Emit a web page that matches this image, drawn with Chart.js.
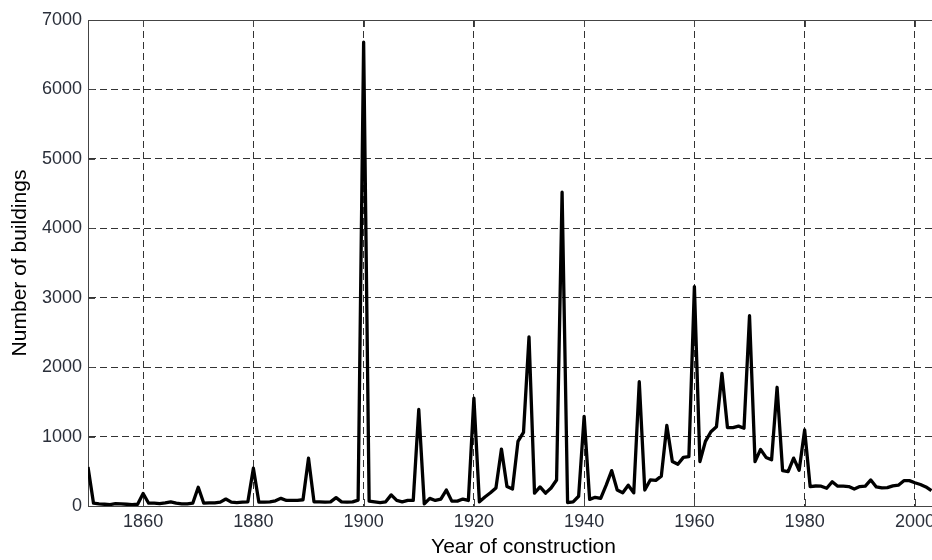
<!DOCTYPE html>
<html><head><meta charset="utf-8">
<script src="https://cdn.jsdelivr.net/npm/chart.js@4.4.1/dist/chart.umd.min.js"></script>
<style>
html,body{margin:0;padding:0;overflow:hidden;background:#fff;width:932px;height:560px}
#wrap{width:962px;height:560px;position:relative}
</style></head>
<body><div id="wrap"><canvas id="c" width="962" height="560"></canvas></div>
<script>
const years = [
 1850,1851,1852,1853,1854,1855,1856,1857,1858,1859,
 1860,1861,1862,1863,1864,1865,1866,1867,1868,1869,
 1870,1871,1872,1873,1874,1875,1876,1877,1878,1879,
 1880,1881,1882,1883,1884,1885,1886,1887,1888,1889,
 1890,1891,1892,1893,1894,1895,1896,1897,1898,1899,
 1900,1901,1902,1903,1904,1905,1906,1907,1908,1909,
 1910,1911,1912,1913,1914,1915,1916,1917,1918,1919,
 1920,1921,1922,1923,1924,1925,1926,1927,1928,1929,
 1930,1931,1932,1933,1934,1935,1936,1937,1938,1939,
 1940,1941,1942,1943,1944,1945,1946,1947,1948,1949,
 1950,1951,1952,1953,1954,1955,1956,1957,1958,1959,
 1960,1961,1962,1963,1964,1965,1966,1967,1968,1969,
 1970,1971,1972,1973,1974,1975,1976,1977,1978,1979,
 1980,1981,1982,1983,1984,1985,1986,1987,1988,1989,
 1990,1991,1992,1993,1994,1995,1996,1997,1998,1999,
 2000,2001,2002,2003];
const buildings = [
 560,40,30,25,20,35,30,25,20,25,
 180,40,40,35,45,60,40,30,30,40,
 270,40,45,45,55,100,55,50,55,60,
 545,55,55,60,75,110,80,80,80,90,
 690,60,60,55,60,120,60,55,60,85,
 6680,70,60,50,60,160,80,60,80,80,
 1390,30,110,80,100,230,70,70,100,80,
 1555,60,130,190,260,820,280,245,930,1060,
 2435,185,275,185,260,375,4520,50,60,140,
 1290,95,125,110,300,510,230,190,300,190,
 1790,230,375,370,430,1160,640,600,700,710,
 3160,640,930,1070,1140,1910,1130,1130,1150,1120,
 2740,640,815,700,665,1710,510,495,690,515,
 1095,280,288,285,255,350,285,285,280,245,
 280,285,375,275,260,265,290,300,365,365,
 335,310,275,220];
const xTicks = [1860,1880,1900,1920,1940,1960,1980,2000];
const yTicks = [0,1000,2000,3000,4000,5000,6000,7000];
const xLabel = 'Year of construction';
const yLabel = 'Number of buildings';

const points = years.map((yr,i)=>({x:yr,y:buildings[i]}));
const FONT = '"Liberation Sans", Arial, sans-serif';

const frame = {
  id:'frame',
  beforeDatasetsDraw(chart){
    const {ctx, chartArea:{left,top,right,bottom}, scales:{x,y}} = chart;
    ctx.save();
    ctx.strokeStyle='#444'; ctx.lineWidth=1;
    ctx.strokeRect(Math.round(left)+0.5, Math.round(top)+0.5, Math.round(right-left), Math.round(bottom-top));
    ctx.beginPath();
    xTicks.forEach(v=>{const px=Math.round(x.getPixelForValue(v))+0.5; ctx.moveTo(px,top); ctx.lineTo(px,top+7); ctx.moveTo(px,bottom); ctx.lineTo(px,bottom-7);});
    yTicks.forEach(v=>{const py=Math.round(y.getPixelForValue(v))+0.5; ctx.moveTo(left,py); ctx.lineTo(left+7,py);});
    ctx.stroke();
    ctx.restore();
  }
};

new Chart(document.getElementById('c'), {
  type:'line',
  data:{datasets:[{data:points,borderColor:'#000',borderWidth:3.3,pointRadius:0,tension:0,fill:false,borderJoinStyle:'round'}]},
  options:{
    responsive:false, animation:false,
    layout:{padding:{left:0,top:20,right:3,bottom:0}},
    plugins:{legend:{display:false},tooltip:{enabled:false}},
    scales:{
      x:{type:'linear',min:1850,max:2008,
        afterBuildTicks:(s)=>{s.ticks = xTicks.map(v=>({value:v}));},
        afterFit:(s)=>{s.height=54;},
        grid:{color:'#333',lineWidth:1,drawTicks:false},
        border:{display:true,color:'#444',dash:[7,4]},
        ticks:{padding:5,color:'#2a2f3a',font:{family:FONT,size:18},maxRotation:0,autoSkip:false,callback:(v)=>String(v)},
        title:{display:true,text:xLabel,color:'#000',font:{family:FONT,size:21},padding:{top:0,bottom:0}}
      },
      y:{min:0,max:7000,
        afterBuildTicks:(s)=>{s.ticks = yTicks.map(v=>({value:v}));},
        afterFit:(s)=>{s.width=88;},
        grid:{color:'#333',lineWidth:1,drawTicks:false},
        border:{display:true,color:'#444',dash:[7,4]},
        ticks:{padding:6,color:'#2a2f3a',font:{family:FONT,size:18},callback:(v)=>String(v)},
        title:{display:true,text:yLabel,color:'#000',font:{family:FONT,size:21},padding:{top:8,bottom:0}}
      }
    }
  },
  plugins:[frame]
});
</script>
</body></html>
